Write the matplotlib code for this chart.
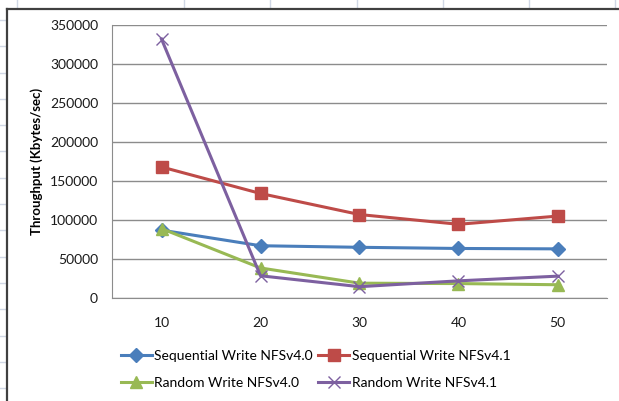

# throughput chart - write tests, NFSv4.0 vs NFSv4.1
# redrawn from an excel screenshot

import matplotlib
matplotlib.use("Agg")
import matplotlib.pyplot as plt
from matplotlib.lines import Line2D


# path to save graph
IMG_OUT = "out.png"

# x categories (number of clients / files)
categories = ["10", "20", "30", "40", "50"]

# throughput values (Kbytes/sec)
seq_v40 = [87000, 67000, 65000, 63500, 63000]
seq_v41 = [168000, 134000, 107000, 94500, 105000]
rand_v40 = [89000, 38500, 19000, 18500, 17000]
rand_v41 = [332000, 28500, 14500, 22000, 28000]

yticks = [0, 50000, 100000, 150000, 200000, 250000, 300000, 350000]

# excel 2007 default series colours
BLUE = "#4a7ebb"
RED = "#be4b48"
GREEN = "#98b954"
PURPLE = "#7d60a0"
GRID = "#8c8c8c"

plt.rcParams["font.family"] = ["Lato", "DejaVu Sans"]

fig = plt.figure(figsize=(6.19, 4.01), dpi=100)

# spreadsheet cell lines peeking out round the chart
W, H = 619.0, 401.0
for xc in [17, 184, 270, 357, 443, 529, 615]:
	fig.add_artist(Line2D([xc / W, xc / W], [1, 1 - 8 / H],
		color="#d0d7e5", lw=1, transform=fig.transFigure))
yc = 20.0
while yc < H:
	fig.add_artist(Line2D([0, 6 / W], [1 - yc / H, 1 - yc / H],
		color="#d0d7e5", lw=1, transform=fig.transFigure))
	yc += 26.3

# chart area border (left and top only, the rest is cut off)
fig.add_artist(Line2D([7 / W, 7 / W], [0, 1 - 9 / H], color="#404040",
	lw=1.6, transform=fig.transFigure))
fig.add_artist(Line2D([7 / W, 1], [1 - 9 / H, 1 - 9 / H], color="#404040",
	lw=1.6, transform=fig.transFigure))

ax = fig.add_axes([112 / W, 1 - 298 / H, (607 - 112) / W, (298 - 25) / H])

x = list(range(1, len(categories) + 1))

# draw the four series
l1, = ax.plot(x, seq_v40, color=BLUE, lw=2.2, marker="D", ms=7,
	label="Sequential Write NFSv4.0", zorder=3)
l2, = ax.plot(x, seq_v41, color=RED, lw=2.2, marker="s", ms=8,
	label="Sequential Write NFSv4.1", zorder=3)
l3, = ax.plot(x, rand_v40, color=GREEN, lw=2.2, marker="^", ms=9,
	label="Random Write NFSv4.0", zorder=3)
l4, = ax.plot(x, rand_v41, color=PURPLE, lw=2.2, marker="x", ms=9,
	mew=1, label="Random Write NFSv4.1", zorder=4)

ax.set_xlim(0.5, len(categories) + 0.5)
ax.set_ylim(0, 350000)
ax.set_xticks(x)
ax.set_xticklabels(categories)
ax.set_yticks(yticks)
ax.set_yticklabels([str(v) for v in yticks])

ax.yaxis.grid(True, color=GRID, lw=1)
ax.set_axisbelow(True)
for side in ["top", "right"]:
	ax.spines[side].set_visible(False)
ax.spines["left"].set_color(GRID)
ax.spines["bottom"].set_color(GRID)
ax.tick_params(axis="both", length=0, labelsize=10, colors="#1a1a1a")
ax.tick_params(axis="y", pad=10)
ax.tick_params(axis="x", pad=14)

ax.set_ylabel("Throughput (Kbytes/sec)", fontsize=9.5, fontweight="bold",
	labelpad=5)

# legend: two rows, two columns, ordered column-wise for matplotlib
fig.legend([l1, l3, l2, l4],
	[l1.get_label(), l3.get_label(), l2.get_label(), l4.get_label()],
	ncol=2, frameon=False, fontsize=10, loc="upper left",
	bbox_to_anchor=(114 / W, 1 - 343 / H), borderpad=0,
	handlelength=2.2, handletextpad=0.2, columnspacing=0.4,
	labelspacing=1.1)

print("saving plot as \"{0}\"".format(IMG_OUT))
fig.savefig(IMG_OUT, dpi=100)
